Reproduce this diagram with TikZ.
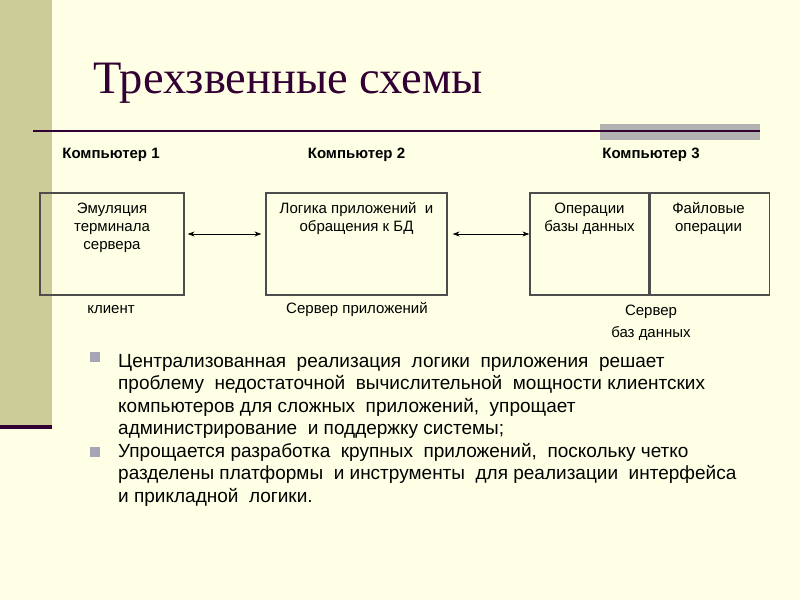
\documentclass[tikz,border=0pt]{standalone}
\usepackage{fontspec}
\setmainfont{Liberation Sans}
\newfontfamily\titlefont{Liberation Serif}
\usetikzlibrary{arrows.meta, positioning}
\definecolor{cream}{RGB}{255,255,229}
\definecolor{olive}{RGB}{204,204,153}
\definecolor{plum}{RGB}{51,0,51}
\definecolor{bargray}{RGB}{178,178,178}
\definecolor{dotgray}{RGB}{165,165,180}
\definecolor{frame}{RGB}{77,77,77}
\tikzstyle{box}     = [draw=frame, line width=1.2pt, inner sep=0pt, minimum height=102pt]
\tikzstyle{boxtext} = [anchor=base, align=center, inner sep=0pt, font=\fontsize{15}{18.3}\selectfont]
\tikzstyle{head}    = [anchor=base, inner sep=0pt, font=\fontsize{15}{18}\selectfont\bfseries]
\tikzstyle{tag}     = [anchor=base, align=center, inner sep=0pt, font=\fontsize{15}{22}\selectfont]
\tikzstyle{dot}     = [fill=dotgray, minimum size=10pt, inner sep=0pt]
\tikzstyle{item}    = [anchor=base west, align=left, inner sep=0pt, font=\fontsize{19}{22.5}\selectfont]
\tikzstyle{link}    = [draw, line width=0.8pt, {Stealth[length=7pt,width=5pt]}-{Stealth[length=7pt,width=5pt]}]

\begin{document}
\begin{tikzpicture}[x=1pt, y=-1pt]
\useasboundingbox (0,0) rectangle (800,600);

% background
\fill [cream]   (0,0)   rectangle (800,600);
\fill [olive]   (0,0)   rectangle (52,425);
\fill [plum]    (0,425) rectangle (52,429);
\fill [bargray] (600,124) rectangle (760,140);
\draw [plum, line width=2pt] (33,130.5) -- (760,130.5);

% title
\node [anchor=base west, inner sep=0pt, text=plum, font=\titlefont\fontsize{46.5}{50}\selectfont] at (93,93) (title) {Трехзвенные схемы};

% headers
\node [head] at (111  ,158) (pc1) {Компьютер 1};
\node [head] at (356.5,158) (pc2) {Компьютер 2};
\node [head] at (651  ,158) (pc3) {Компьютер 3};

% boxes
\node [box, minimum width=144pt] at (112  ,244) (emul)  {};
\node [box, minimum width=181pt] at (356.5,244) (logic) {};
\node [box, minimum width=119pt] at (589.5,244) (dbops) {};
\node [box, minimum width=119pt, right=0pt of dbops]   (files) {};

% box texts (base = last line)
\node [boxtext] at (112  ,249.6) (emultext)  {Эмуляция\\терминала\\сервера};
\node [boxtext] at (356.5,231.3) (logictext) {Логика приложений \ и\\обращения к БД};
\node [boxtext] at (589.5,231.3) (dbopstext) {Операции\\базы данных};
\node [boxtext] at (708.5,231.3) (filestext) {Файловые\\операции};

% arrows
\path
  ([xshift=3pt, yshift=10pt]emul.east)  edge [link] ([xshift=-4pt, yshift=10pt]logic.west)
  ([xshift=5pt, yshift=10pt]logic.east) edge [link] ([yshift=10pt]dbops.west);

% roles
\node [tag] at (111,313.5) (client)  {клиент};
\node [tag] at (357,313.5) (appsrv)  {Сервер приложений};
\node [tag] at (651,337)   (dbsrv)   {Сервер\\баз данных};

% bullets
\node [dot] at (95,357) (dot1) {};
\node [dot] at (95,452) (dot2) {};
\node [item] at (118,434.5) (item1) {Централизованная \ реализация \ логики \ приложения \ решает\\
  проблему \ недостаточной \ вычислительной \ мощности клиентских\\
  компьютеров для сложных \ приложений, \ упрощает\\
  администрирование \ и поддержку системы;};
\node [item] at (118,502) (item2) {Упрощается разработка \ крупных \ приложений, \ поскольку четко\\
  разделены платформы \ и инструменты \ для реализации \ интерфейса\\
  и прикладной \ логики.};

\end{tikzpicture}
\end{document}
